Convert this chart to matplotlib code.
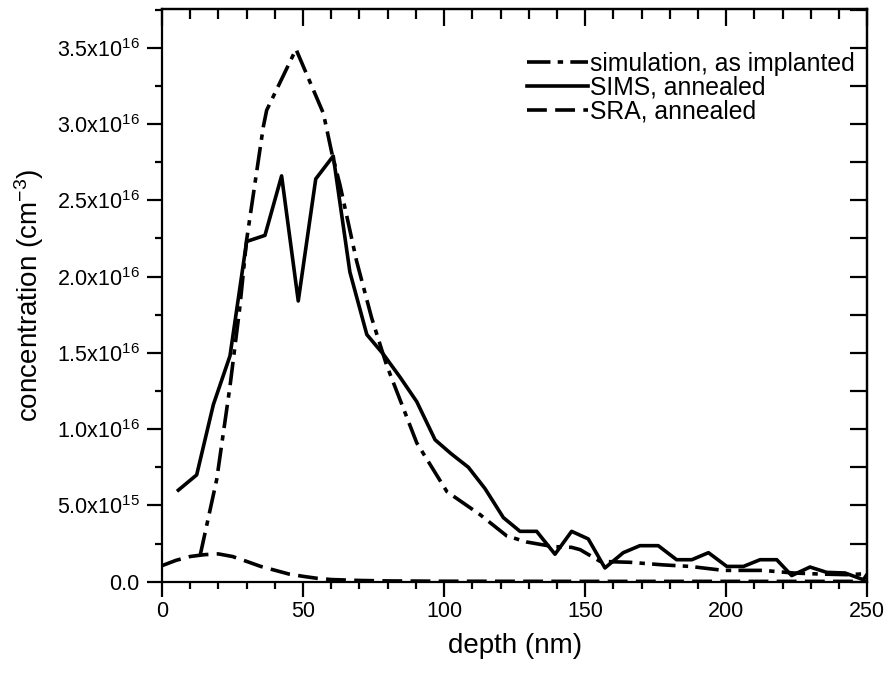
import matplotlib
matplotlib.use("Agg")
import matplotlib.pyplot as plt
from matplotlib.ticker import MultipleLocator, FuncFormatter

plt.rcParams['font.family'] = ['Liberation Sans', 'DejaVu Sans']
plt.rcParams['mathtext.fontset'] = 'custom'
plt.rcParams['mathtext.rm'] = 'Liberation Sans'
plt.rcParams['mathtext.it'] = 'Liberation Sans:italic'
plt.rcParams['mathtext.bf'] = 'Liberation Sans:bold'

# simulation, as implanted (depth nm, concentration 1e16 cm^-3)
sim_depth = [13.5, 19.4, 24.1, 27.6, 30.0, 35.9, 37.1, 47.5, 57.2, 60.2, 63.1, 69.0, 74.3,
             79.6, 90.3, 101.0, 112.7, 122.2, 129.3, 138.6, 145.2, 148.2, 155.3, 165.9,
             177.7, 187.2, 199.0, 213.0, 223.8, 233.2, 242.7, 249.8]
sim_conc = [0.17, 0.67, 1.28, 1.80, 2.24, 2.98, 3.09, 3.49, 3.07, 2.81, 2.60, 2.10, 1.73,
            1.42, 0.91, 0.59, 0.44, 0.30, 0.26, 0.23, 0.225, 0.21, 0.133, 0.127,
            0.11, 0.10, 0.074, 0.074, 0.057, 0.05, 0.046, 0.052]

# SIMS, annealed
sims_depth = [5.8, 12.3, 18.2, 24.1, 30.0, 36.5, 42.4, 48.3, 54.5, 60.7, 66.6, 72.6, 78.5,
              84.4, 90.3, 96.8, 102.4, 108.6, 114.5, 121.0, 126.9, 132.8, 139.3, 145.2,
              151.1, 157.0, 163.5, 169.4, 175.9, 182.4, 187.8, 193.7, 200.2, 206.1, 212.0,
              217.9, 223.2, 229.7, 235.6, 242.1, 248.6, 250.0]
sims_conc = [0.60, 0.70, 1.16, 1.48, 2.23, 2.27, 2.66, 1.84, 2.64, 2.79, 2.03, 1.62, 1.49,
             1.34, 1.18, 0.93, 0.84, 0.75, 0.61, 0.42, 0.33, 0.33, 0.18, 0.33,
             0.28, 0.09, 0.19, 0.236, 0.236, 0.144, 0.144, 0.19, 0.10, 0.10, 0.144,
             0.144, 0.04, 0.096, 0.061, 0.057, 0.013, 0.05]

# SRA, annealed
sra_depth = [0, 5, 10, 15, 20, 25, 30, 35, 40, 45, 50, 55, 60, 70, 80, 100, 150, 200, 250]
sra_conc = [0.105, 0.14, 0.165, 0.177, 0.182, 0.165, 0.133, 0.10, 0.075, 0.05, 0.035,
            0.022, 0.014, 0.008, 0.005, 0.003, 0.002, 0.002, 0.002]

ytick_labels = {0: '0.0', 1: r'5.0x10$^{15}$', 2: r'1.0x10$^{16}$', 3: r'1.5x10$^{16}$',
                4: r'2.0x10$^{16}$', 5: r'2.5x10$^{16}$', 6: r'3.0x10$^{16}$',
                7: r'3.5x10$^{16}$'}

fig = plt.figure(figsize=(8.91, 6.77), dpi=100)
ax = fig.add_axes([0.1818, 0.1408, 0.7916, 0.8455])

lw = 2.6
ax.plot(sim_depth, [c * 1e16 for c in sim_conc], color='black', lw=lw,
        dashes=[6.5, 2, 1.5, 2], dash_capstyle='butt', label='simulation, as implanted')
ax.plot(sims_depth, [c * 1e16 for c in sims_conc], color='black', lw=lw,
        label='SIMS, annealed')
ax.plot(sra_depth, [c * 1e16 for c in sra_conc], color='black', lw=lw,
        dashes=[5.5, 2.3], dash_capstyle='butt', label='SRA, annealed')

ax.set_xlim(0, 250)
ax.set_ylim(0, 3.752e16)

ax.xaxis.set_major_locator(MultipleLocator(50))
ax.xaxis.set_minor_locator(MultipleLocator(10))
ax.yaxis.set_major_locator(MultipleLocator(0.5e16))
ax.yaxis.set_minor_locator(MultipleLocator(0.25e16))
ax.yaxis.set_major_formatter(FuncFormatter(lambda v, p: ytick_labels.get(int(round(v / 0.5e16)), '')))

for s in ax.spines.values():
    s.set_linewidth(1.6)

ax.tick_params(which='major', direction='out', length=11, width=1.6, labelsize=15.5, pad=3)
ax.tick_params(which='minor', direction='out', length=5, width=1.6)
ax.tick_params(axis='y', which='major', pad=5)

top = ax.secondary_xaxis('top')
top.xaxis.set_major_locator(MultipleLocator(50))
top.xaxis.set_minor_locator(MultipleLocator(10))
top.tick_params(which='major', direction='in', length=12, width=1.6, labeltop=False)
top.tick_params(which='minor', direction='in', length=7, width=1.6)
top.spines['top'].set_linewidth(1.6)

right = ax.secondary_yaxis('right')
right.yaxis.set_major_locator(MultipleLocator(0.5e16))
right.yaxis.set_minor_locator(MultipleLocator(0.25e16))
right.tick_params(which='both', direction='in', length=12, width=1.6, labelright=False)
right.spines['right'].set_linewidth(1.6)

ax.set_xlabel('depth (nm)', fontsize=20, labelpad=8)
ax.set_ylabel('concentration (cm$^{-3}$)', fontsize=20, labelpad=8)

ax.legend(loc='upper left', bbox_to_anchor=(0.517, 0.926), frameon=False, fontsize=17.8,
          handlelength=2.5, handletextpad=0.05, labelspacing=0.0, borderaxespad=0,
          borderpad=0)

fig.savefig('out.png', dpi=100)
